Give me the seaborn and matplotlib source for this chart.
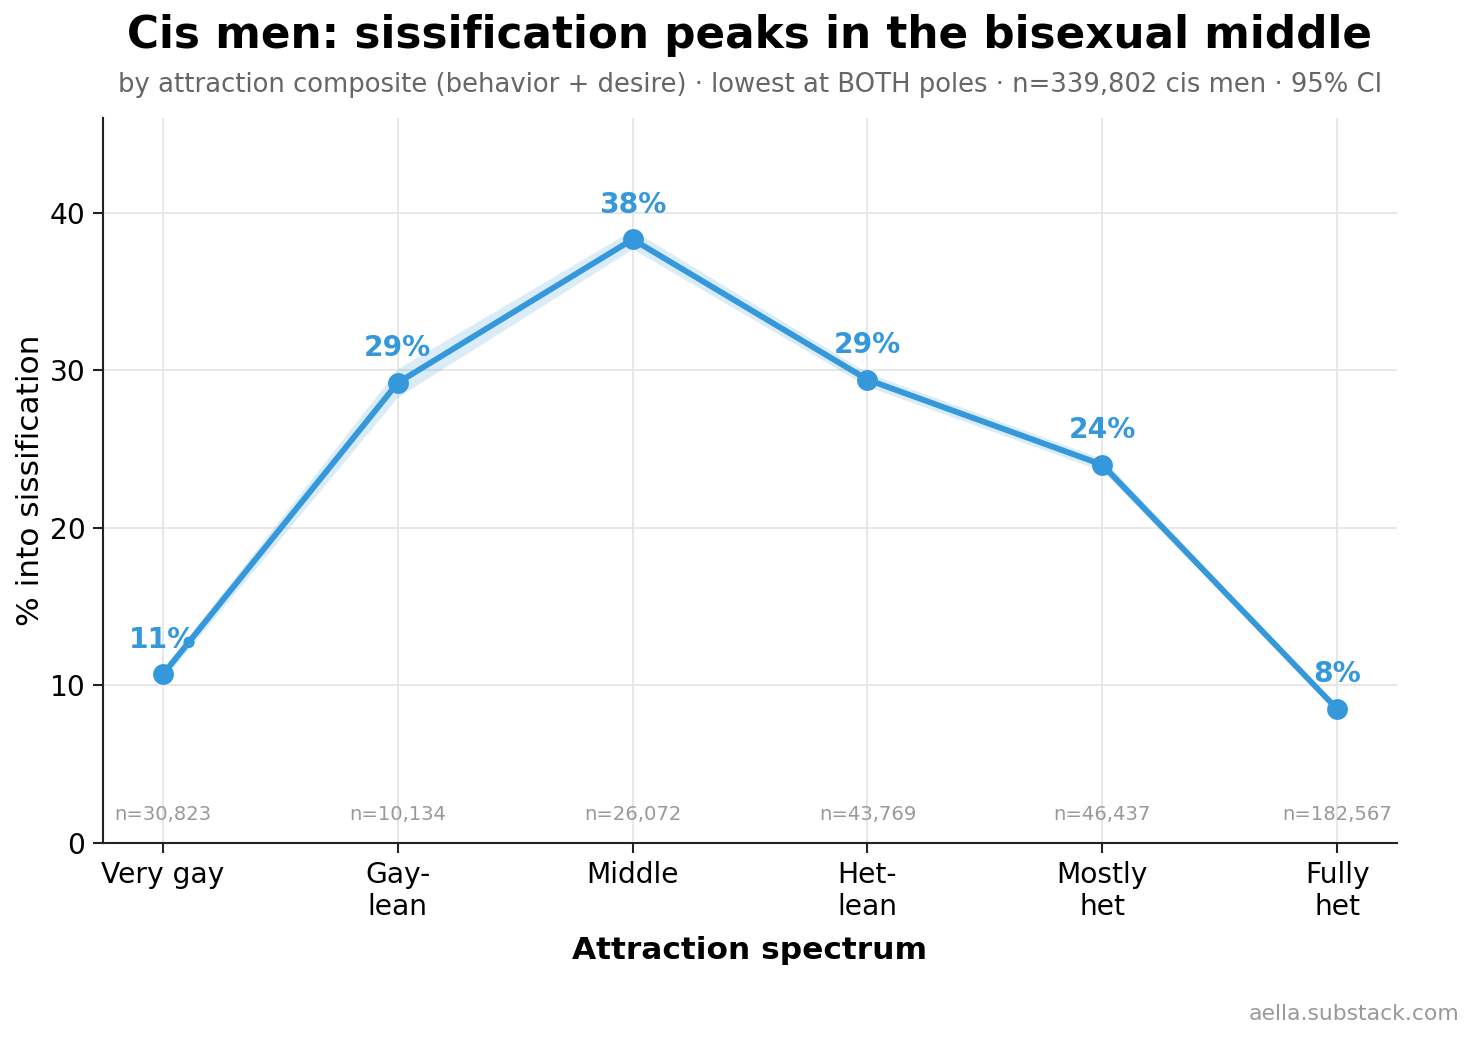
import matplotlib
matplotlib.use("Agg")
import matplotlib.pyplot as plt
import pandas as pd
import seaborn as sns

# datos
categories = ["Very gay", "Gay-\nlean", "Middle", "Het-\nlean", "Mostly\nhet", "Fully\nhet"]
pct = [10.7, 29.2, 38.3, 29.4, 24.0, 8.5]
ci_low = [10.35, 28.3, 37.7, 28.97, 23.61, 8.37]
ci_high = [11.05, 30.1, 38.9, 29.83, 24.39, 8.63]
n_labels = ["n=30,823", "n=10,134", "n=26,072", "n=43,769", "n=46,437", "n=182,567"]
value_labels = ["11%", "29%", "38%", "29%", "24%", "8%"]

BLUE = "#3498db"

df = pd.DataFrame({"x": range(len(categories)), "pct": pct})

sns.set_style("white")
plt.rcParams["font.family"] = ["DejaVu Sans"]
plt.rcParams["text.color"] = "black"
plt.rcParams["axes.labelcolor"] = "black"
plt.rcParams["xtick.color"] = "black"
plt.rcParams["ytick.color"] = "black"

fig = plt.figure(figsize=(9.84, 6.927), dpi=150)
ax = fig.add_axes([0.0698, 0.1886, 0.8767, 0.6978])

ax.fill_between(df["x"], ci_low, ci_high, color=BLUE, alpha=0.18, lw=0)
sns.lineplot(data=df, x="x", y="pct", ax=ax, color=BLUE, lw=2.8,
             marker="o", markersize=10, markeredgewidth=0, zorder=3)

# etiquetas de valor (debajo de la linea)
for xi, yi, lab in zip(df["x"], pct, value_labels):
    ax.annotate(lab, (xi, yi), xytext=(0, 10), textcoords="offset points",
                ha="center", va="bottom", fontsize=13.5, fontweight="bold",
                color=BLUE, zorder=2)

for xi, lab in zip(df["x"], n_labels):
    ax.text(xi, 1.8, lab, ha="center", va="center", fontsize=9.4, color="#999999")

ax.set_xlim(-0.255, 5.255)
ax.set_ylim(0, 46)
ax.set_xticks(range(len(categories)))
ax.set_xticklabels(categories, fontsize=13.5)
ax.set_yticks([0, 10, 20, 30, 40])
ax.tick_params(axis="y", labelsize=13.5)
ax.tick_params(axis="both", length=5, width=1, color="#222222", left=True, bottom=True)
ax.grid(True, color="#e6e6e6", lw=0.9)
for s in ["top", "right"]:
    ax.spines[s].set_visible(False)
for s in ["left", "bottom"]:
    ax.spines[s].set_color("#222222")
    ax.spines[s].set_linewidth(1)

ax.set_xlabel("Attraction spectrum", fontsize=15, fontweight="bold", labelpad=7)
ax.set_ylabel("% into sissification", fontsize=15, labelpad=2)

fig.text(0.508, 0.966, "Cis men: sissification peaks in the bisexual middle",
         ha="center", va="center", fontsize=21, fontweight="bold")
fig.text(0.508, 0.918,
         "by attraction composite (behavior + desire) \u00b7 lowest at BOTH poles \u00b7 n=339,802 cis men \u00b7 95% CI",
         ha="center", va="center", fontsize=12.4, color="#666666")
fig.text(0.989, 0.024, "aella.substack.com", ha="right", va="center",
         fontsize=10.5, color="#999999")

fig.savefig("out.png", dpi=150)
